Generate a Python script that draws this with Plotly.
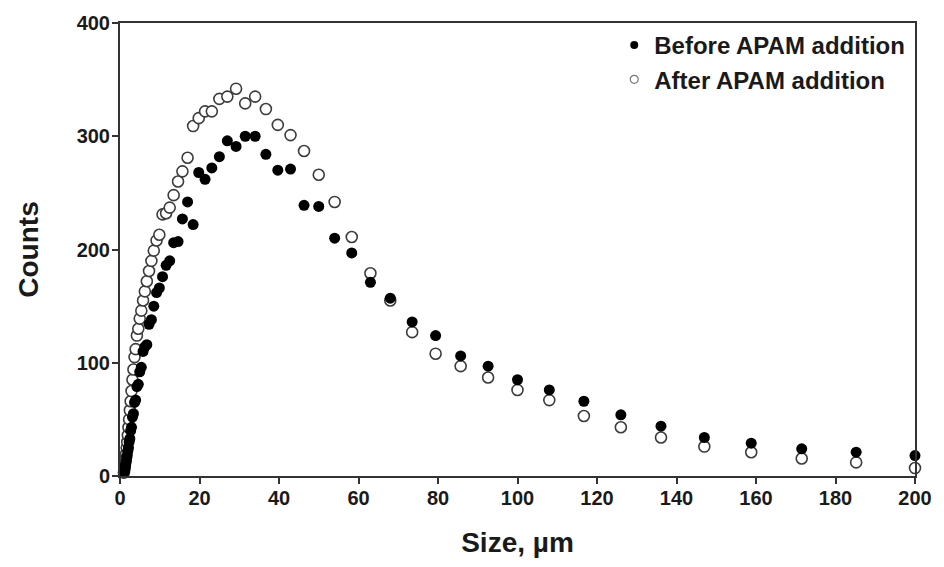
import plotly.graph_objects as go

# Particle size bins (µm) and counts before / after APAM addition
size_um = [
    0.98, 1.06, 1.15, 1.24, 1.34, 1.45, 1.56, 1.69, 1.82, 1.97,
    2.13, 2.30, 2.48, 2.68, 2.90, 3.13, 3.38, 3.65, 3.94, 4.25,
    4.60, 4.96, 5.36, 5.80, 6.25, 6.75, 7.30, 7.90, 8.50, 9.20,
    9.90, 10.7, 11.6, 12.5, 13.5, 14.6, 15.7, 17.0, 18.4, 19.8,
    21.4, 23.1, 25.0, 27.0, 29.2, 31.5, 34.0, 36.7, 39.7, 42.9,
    46.3, 50.0, 54.0, 58.3, 63.0, 68.0, 73.5, 79.4, 85.7, 92.6,
    100.0, 108.0, 116.7, 126.0, 136.1, 147.0, 158.8, 171.5, 185.2, 200.0,
]

counts_before = [
    3, 4, 5, 7, 9, 11, 13, 16, 18, 22,
    25, 30, 33, 40, 43, 52, 55, 65, 67, 79,
    81, 92, 96, 110, 114, 116, 134, 138, 150, 162,
    166, 176, 186, 190, 206, 207, 227, 242, 222, 268,
    262, 272, 282, 296, 291, 300, 300, 284, 270, 271,
    239, 238, 210, 197, 171, 157, 136, 124, 106, 97,
    85, 76, 66, 54, 44, 34, 29, 24, 21, 18,
]

counts_after = [
    3, 5, 7, 10, 13, 16, 20, 25, 30, 36,
    43, 50, 58, 66, 75, 85, 94, 105, 112, 124,
    130, 139, 146, 155, 163, 172, 181, 190, 199, 208,
    213, 231, 232, 237, 248, 260, 269, 281, 309, 316,
    322, 322, 333, 335, 342, 329, 335, 324, 310, 301,
    287, 266, 242, 211, 179, 155, 127, 108, 97, 87,
    76, 67, 53, 43, 34, 26, 21, 15.5, 12, 7,
]

x_ticks = [0, 20, 40, 60, 80, 100, 120, 140, 160, 180, 200]
y_ticks = [0, 100, 200, 300, 400]

FONT = "Liberation Sans, Arial, sans-serif"
INK = "#1a1a1a"
AXIS = "#333333"

fig = go.Figure()

# open circles first so the filled markers sit on top
fig.add_trace(go.Scatter(
    x=size_um, y=counts_after, mode="markers", showlegend=False,
    marker=dict(symbol="circle", size=11, color="white",
                line=dict(color="#3c3c3c", width=1.6)),
    cliponaxis=False,
))
fig.add_trace(go.Scatter(
    x=size_um, y=counts_before, mode="markers", showlegend=False,
    marker=dict(symbol="circle", size=11, color="black",
                line=dict(color="black", width=0)),
    cliponaxis=False,
))

# legend entries with small symbols
fig.add_trace(go.Scatter(
    x=[None], y=[None], mode="markers", name="Before APAM addition",
    legendgroup="before",
    marker=dict(symbol="circle", size=8, color="black"),
))
fig.add_trace(go.Scatter(
    x=[None], y=[None], mode="markers", name="After APAM addition",
    legendgroup="after",
    marker=dict(symbol="circle", size=8, color="white",
                line=dict(color="#777777", width=1.2)),
))

fig.update_layout(
    width=944, height=567,
    margin=dict(l=120, r=23, t=21, b=91),
    paper_bgcolor="white", plot_bgcolor="white",
    font=dict(family=FONT, color=INK),
    legend=dict(
        x=0.994, y=1.0, xanchor="right", yanchor="top",
        bgcolor="rgba(0,0,0,0)", borderwidth=0,
        font=dict(family=FONT, size=24, color=INK, weight="bold"),
        itemwidth=30, tracegroupgap=0,
    ),
)

fig.update_xaxes(
    range=[0, 200], tickvals=x_ticks,
    showgrid=False, zeroline=False,
    showline=True, linecolor=AXIS, linewidth=2, mirror=True,
    ticks="outside", ticklen=6, tickwidth=1.5, tickcolor=AXIS,
    ticklabelstandoff=-3,
    tickfont=dict(family=FONT, size=20, color=INK, weight="bold"),
    title=dict(text="Size, µm", standoff=24,
               font=dict(family=FONT, size=28, color=INK, weight="bold")),
)
fig.update_yaxes(
    range=[0, 400], tickvals=y_ticks,
    showgrid=False, zeroline=False,
    showline=True, linecolor=AXIS, linewidth=2, mirror=True,
    ticks="outside", ticklen=6, tickwidth=1.5, tickcolor=AXIS,
    ticklabelstandoff=-2,
    tickfont=dict(family=FONT, size=20, color=INK, weight="bold"),
    title=dict(text="Counts", standoff=30,
               font=dict(family=FONT, size=28, color=INK, weight="bold")),
)

fig.write_html("out.html")
